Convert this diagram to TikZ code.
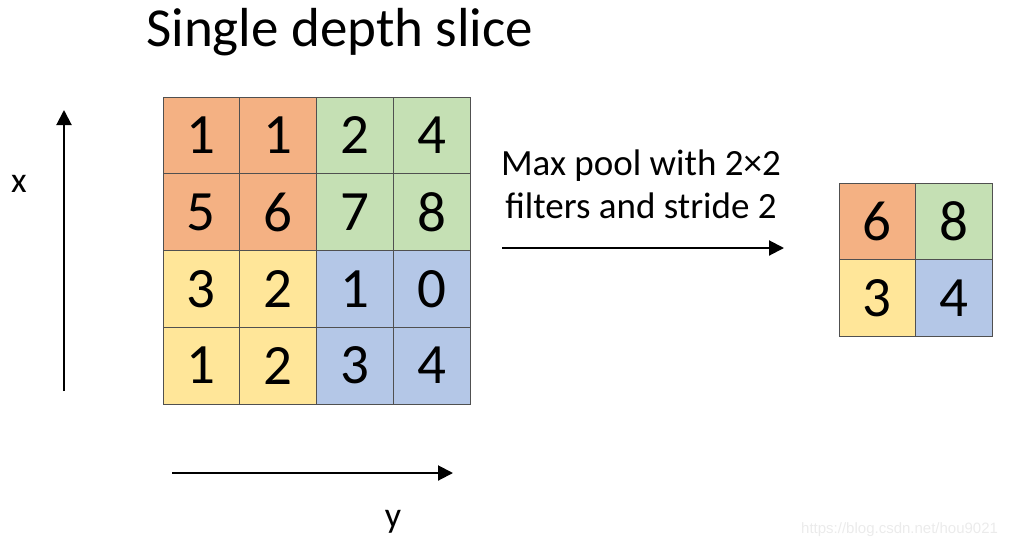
\documentclass[tikz,border=0pt]{standalone}
\usepackage{fontspec}
\setmainfont{Carlito}
\newfontfamily\wmfont{Liberation Sans}
\usetikzlibrary{arrows.meta}
\definecolor{corange}{HTML}{F4B183}
\definecolor{cgreen}{HTML}{C5E0B4}
\definecolor{cyellow}{HTML}{FFE699}
\definecolor{cblue}{HTML}{B4C7E7}
\definecolor{cline}{HTML}{505050}
\tikzset{
  cell/.style={draw=cline, line width=0.9pt, minimum size=76.75pt, inner sep=0pt, anchor=center,
    font=\fontsize{57}{57}\selectfont},
  scell/.style={draw=cline, line width=0.9pt, minimum size=76.5pt, inner sep=0pt, anchor=center,
    font=\fontsize{57}{57}\selectfont},
  axarrow/.style={line width=2pt, -{Triangle[length=15pt,width=15pt]}},
}
\begin{document}
\begin{tikzpicture}[x=1pt,y=-1pt]
\useasboundingbox (0,0) rectangle (1016,549);
% title
\node[anchor=base west, inner sep=0pt, font=\fontsize{55}{55}\selectfont] (title) at (146,46) {Single depth slice};
% big grid
\def\cs{76.75}
\foreach \r/\rowvals in {0/{1,1,2,4},1/{5,6,7,8},2/{3,2,1,0},3/{1,2,3,4}}{
  \foreach \v [count=\c from 0] in \rowvals {
    \pgfmathsetmacro{\cx}{163+\cs*(\c+0.5)}
    \pgfmathsetmacro{\cy}{97+\cs*(\r+0.5)}
    \ifnum\r<2 \ifnum\c<2 \def\fc{corange}\else\def\fc{cgreen}\fi
    \else \ifnum\c<2 \def\fc{cyellow}\else\def\fc{cblue}\fi\fi
    \node[cell, fill=\fc] (g\r\c) at (\cx,\cy) {\raisebox{-2pt}{\v}};
  }
}
% small grid
\node[scell, fill=corange] (s00) at (877.25,221.25) {\raisebox{-2pt}{6}};
\node[scell, fill=cgreen] (s01) at (953.75,221.25) {\raisebox{-2pt}{8}};
\node[scell, fill=cyellow] (s10) at (877.25,297.75) {\raisebox{-2pt}{3}};
\node[scell, fill=cblue] (s11) at (953.75,297.75) {\raisebox{-2pt}{4}};
% pooling arrow and label
\coordinate (pa) at (502,248);
\coordinate (pb) at (784,248);
\draw[axarrow] (pa) -- (pb);
\node[align=center, inner sep=0pt, font=\fontsize{37}{43}\selectfont, anchor=base] (lbl) at (641,218) {Max pool with 2×2\\filters and stride 2};
% axes
\coordinate (xa) at (64,391);
\coordinate (xb) at (64,110);
\draw[axarrow] (xa) -- (xb);
\node[font=\fontsize{36}{36}\selectfont, inner sep=0pt] (xl) at (19,184) {x};
\coordinate (ya) at (172,473);
\coordinate (yb) at (453,473);
\draw[axarrow] (ya) -- (yb);
\node[font=\fontsize{36}{36}\selectfont, inner sep=0pt] (yl) at (393,522) {y};
% watermark
\node[anchor=base west, inner sep=0pt, text=black!8, font=\wmfont\fontsize{15}{15}\selectfont] (wm) at (801,533) {https://blog.csdn.net/hou9021};
\end{tikzpicture}
\end{document}
